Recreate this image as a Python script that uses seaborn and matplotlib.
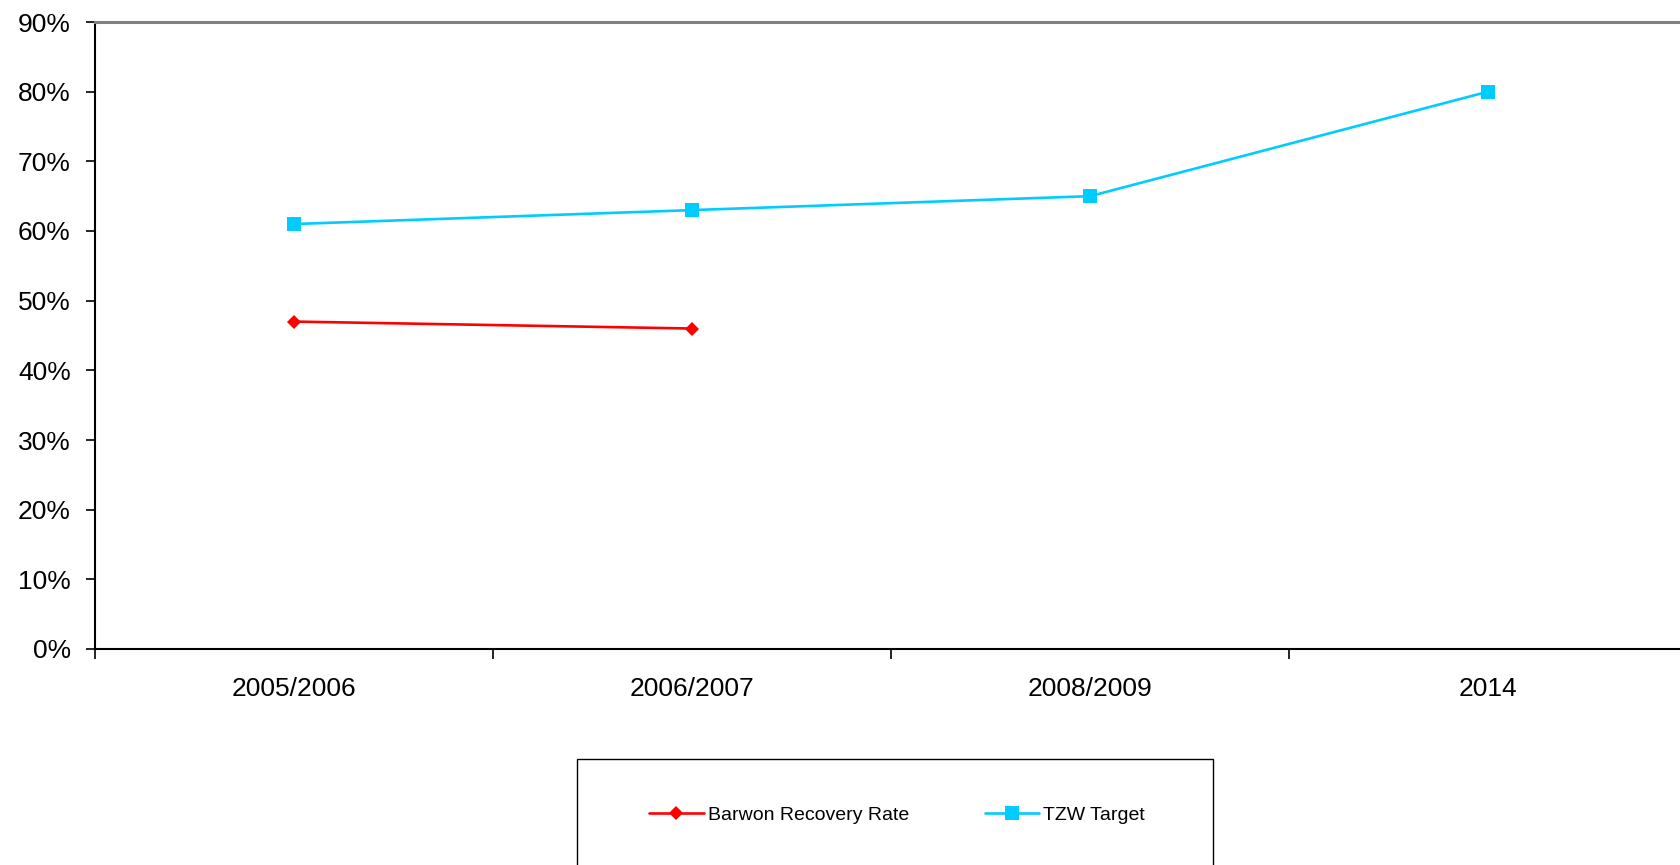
import matplotlib
matplotlib.use("Agg")
import matplotlib.pyplot as plt
from matplotlib.patches import Rectangle
from matplotlib.ticker import FuncFormatter, FixedLocator
import seaborn as sns
import pandas as pd

categories = ["2005/2006", "2006/2007", "2008/2009", "2014"]
tzw_target = [61, 63, 65, 80]
barwon_categories = ["2005/2006", "2006/2007"]
barwon_rate = [47, 46]
series_names = ["Barwon Recovery Rate", "TZW Target"]
yticks = [0, 10, 20, 30, 40, 50, 60, 70, 80, 90]

sns.set_theme(style="white")
plt.rcParams["font.family"] = ["Liberation Sans", "DejaVu Sans"]
plt.rcParams["text.color"] = "black"

W, H = 1681, 865
fig = plt.figure(figsize=(W / 100, H / 100), dpi=100)
ax = fig.add_axes([95 / W, (H - 649) / H, (1687 - 95) / W, (649 - 22) / H])

df_tzw = pd.DataFrame({"period": categories, "value": tzw_target})
df_bar = pd.DataFrame({"period": barwon_categories, "value": barwon_rate})

sns.lineplot(data=df_tzw, x="period", y="value", ax=ax, color="#00CCFF",
             marker="s", markersize=10.5, markeredgewidth=0, linewidth=1.9,
             sort=False, label=series_names[1])
sns.lineplot(data=df_bar, x="period", y="value", ax=ax, color="#FF0000",
             marker="D", markersize=7.5, markeredgewidth=0, linewidth=1.9,
             sort=False, label=series_names[0])

ax.set_xlim(-0.5, len(categories) - 0.5)
ax.set_ylim(0, 90)
ax.set_xlabel("")
ax.set_ylabel("")
ax.set_yticks(yticks)
ax.yaxis.set_major_formatter(FuncFormatter(lambda v, p: f"{int(v)}%"))
ax.set_xticks(range(len(categories)))
ax.set_xticklabels(categories)
ax.xaxis.set_minor_locator(FixedLocator([i - 0.5 for i in range(len(categories))]))

ax.tick_params(axis="x", which="major", length=0, pad=20, labelsize=19, colors="black")
ax.tick_params(axis="x", which="minor", bottom=True, length=7, width=1.2, color="black", direction="out")
ax.tick_params(axis="y", which="major", left=True, length=6.5, width=1.2, color="black",
               direction="out", pad=11, labelsize=19, labelcolor="black")

for s in ["left", "bottom"]:
    ax.spines[s].set_color("black")
    ax.spines[s].set_linewidth(1.5)
ax.spines["top"].set_color("#808080")
ax.spines["top"].set_linewidth(2.2)
ax.spines["right"].set_visible(False)
ax.grid(False)

handles, labels = ax.get_legend_handles_labels()
ax.get_legend().remove()
order = [labels.index(n) for n in series_names]
leg = fig.legend([handles[i] for i in order], [labels[i] for i in order],
                 loc="center", bbox_to_anchor=(897 / W, 1 - 815 / H), ncol=2,
                 frameon=False, fontsize=14, handlelength=2.8, handletextpad=0.2,
                 columnspacing=3.9)
for t in leg.get_texts():
    t.set_color("black")

fig.patches.append(Rectangle((577 / W, -0.02), (1213 - 577) / W, 0.02 + 1 - 759 / H,
                             transform=fig.transFigure, fill=False,
                             edgecolor="black", linewidth=1.0))

fig.savefig("out.png", dpi=100)
